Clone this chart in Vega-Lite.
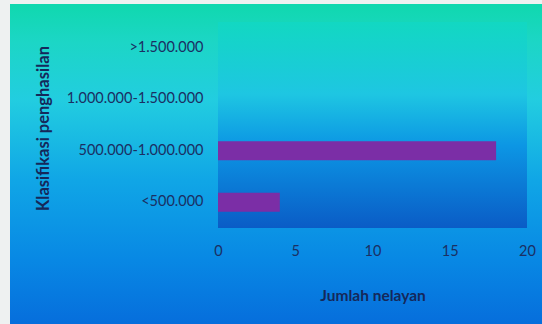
{
  "$schema": "https://vega.github.io/schema/vega-lite/v6.json",
  "width": 532,
  "height": 320,
  "autosize": {"type": "none"},
  "padding": {"left": 10, "top": 4, "right": 0, "bottom": 0},
  "background": "#eef1f1",
  "view": {
    "stroke": null,
    "fill": {
      "gradient": "linear", "x1": 0, "y1": 0, "x2": 0, "y2": 1,
      "stops": [
        {"offset": 0, "color": "#10d8ae"},
        {"offset": 0.12, "color": "#1cd6c6"},
        {"offset": 0.3, "color": "#22cde0"},
        {"offset": 0.55, "color": "#10a6e6"},
        {"offset": 0.8, "color": "#0888e4"},
        {"offset": 1, "color": "#066edc"}
      ]
    }
  },
  "config": {
    "font": "Lato",
    "axis": {
      "grid": false, "domain": false, "ticks": false, "tickSize": 0,
      "labelColor": "#1b2f63", "labelFontSize": 14.5, "labelFont": "Lato",
      "titleColor": "#15285a", "titleFont": "Lato", "titleFontWeight": "bold"
    }
  },
  "datasets": {
    "income": [
      {"kelas": ">1.500.000", "jumlah": 0},
      {"kelas": "1.000.000-1.500.000", "jumlah": 0},
      {"kelas": "500.000-1.000.000", "jumlah": 18},
      {"kelas": "<500.000", "jumlah": 4}
    ]
  },
  "layer": [
    {
      "data": {"values": [{}]},
      "mark": {
        "type": "rect",
        "fill": {
          "gradient": "linear", "x1": 0, "y1": 0, "x2": 0, "y2": 1,
          "stops": [
            {"offset": 0, "color": "#12d8c2"},
            {"offset": 0.35, "color": "#1ec6e2"},
            {"offset": 0.6, "color": "#0c96e4"},
            {"offset": 1, "color": "#0a5cc6"}
          ]
        }
      },
      "encoding": {
        "x": {"datum": 0, "type": "quantitative"},
        "x2": {"datum": 20},
        "y": {"datum": ">1.500.000", "type": "nominal", "bandPosition": -0.85},
        "y2": {"datum": "<500.000", "bandPosition": 1.85}
      }
    },
    {
      "data": {"name": "income"},
      "mark": {"type": "bar", "color": "#7b2ea6"},
      "encoding": {
        "x": {"field": "jumlah", "type": "quantitative"},
        "y": {"field": "kelas", "type": "nominal"}
      }
    }
  ],
  "encoding": {
    "x": {
      "type": "quantitative",
      "scale": {"domain": [0, 20], "range": [208, 517], "nice": false, "zero": false},
      "axis": {
        "title": "Jumlah nelayan",
        "titleFontSize": 15.5,
        "values": [0, 5, 10, 15, 20],
        "offset": -73,
        "labelPadding": 0,
        "labelBaseline": "middle",
        "labelFlush": false,
        "titleY": 44,
        "titleBaseline": "middle"
      }
    },
    "y": {
      "type": "nominal",
      "sort": null,
      "scale": {
        "domain": [">1.500.000", "1.000.000-1.500.000", "500.000-1.000.000", "<500.000"],
        "range": [18, 224],
        "paddingInner": 0.63,
        "paddingOuter": 0.315
      },
      "axis": {
        "title": "Klasifikasi penghasilan",
        "titleFontSize": 16.5,
        "offset": -193,
        "labelPadding": 0,
        "titleX": -160,
        "titleY": 124,
        "titleAngle": -90,
        "titleBaseline": "middle",
        "titleAlign": "center"
      }
    }
  }
}
